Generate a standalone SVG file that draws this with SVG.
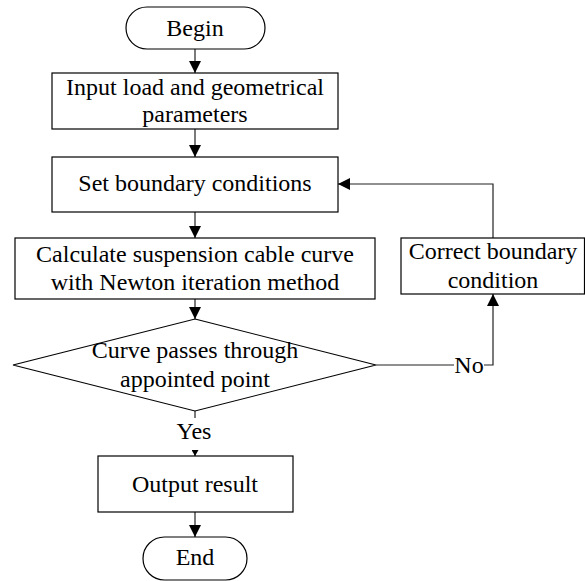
<svg xmlns="http://www.w3.org/2000/svg" width="585" height="581" viewBox="0 0 585 581">
<style>
.box{fill:#fff;stroke:#000;stroke-width:1.2}
.ln{fill:none;stroke:#222;stroke-width:1.2}
text{font-family:"Times New Roman","Liberation Serif",Tinos,"DejaVu Serif","Noto Serif",serif;font-size:24px;fill:#000;text-anchor:middle}
</style>
<defs>
<marker id="ah" markerWidth="12" markerHeight="13" refX="12" refY="6" orient="auto" markerUnits="userSpaceOnUse">
<path d="M0,0 L12,6 L0,12 Z" fill="#000"/>
</marker>
<marker id="ahs" markerWidth="6" markerHeight="7" refX="6" refY="3.5" orient="auto" markerUnits="userSpaceOnUse">
<path d="M0,0 L6,3.5 L0,7 Z" fill="#000"/>
</marker>
</defs>
<rect width="585" height="581" fill="#fff"/>
<g id="connectors">
<line class="ln" x1="195" y1="49" x2="195" y2="73" marker-end="url(#ah)"/>
<line class="ln" x1="195" y1="129" x2="195" y2="157" marker-end="url(#ah)"/>
<line class="ln" x1="195" y1="212" x2="195" y2="238" marker-end="url(#ah)"/>
<line class="ln" x1="195" y1="299" x2="195" y2="319" marker-end="url(#ah)"/>
<line class="ln" x1="195" y1="411" x2="195" y2="418"/>
<line class="ln" x1="195" y1="450" x2="195" y2="456" marker-end="url(#ahs)"/>
<line class="ln" x1="195" y1="512" x2="195" y2="537" marker-end="url(#ah)"/>
<polyline class="ln" points="376,365 454,365"/>
<polyline class="ln" points="484,365 493,365 493,294" marker-end="url(#ah)"/>
<polyline class="ln" points="493,238 493,184 338,184" marker-end="url(#ah)"/>
<text x="194" y="439">Yes</text>
<text x="469" y="373">No</text>
</g>
<g id="begin">
<rect class="box" x="126" y="7" width="139" height="42" rx="21" ry="21"/>
<text x="195" y="36">Begin</text>
</g>
<g id="input">
<rect class="box" x="52" y="73" width="286" height="56"/>
<text x="195" y="95">Input load and geometrical</text>
<text x="195" y="122">parameters</text>
</g>
<g id="setbc">
<rect class="box" x="52" y="157" width="286" height="55"/>
<text x="195" y="191">Set boundary conditions</text>
</g>
<g id="calc">
<rect class="box" x="15" y="238" width="360" height="61"/>
<text x="195" y="262">Calculate suspension cable curve</text>
<text x="195" y="290">with Newton iteration method</text>
</g>
<g id="decision">
<polygon class="box" points="195,319 376,365 195,411 13,365"/>
<text x="195" y="358">Curve passes through</text>
<text x="195" y="387">appointed point</text>
</g>
<g id="correct">
<rect class="box" x="401" y="238" width="183.5" height="56"/>
<text x="493" y="259">Correct boundary</text>
<text x="493" y="288">condition</text>
</g>
<g id="output">
<rect class="box" x="98" y="456" width="195" height="56"/>
<text x="195" y="492">Output result</text>
</g>
<g id="end">
<rect class="box" x="143" y="537" width="104" height="43" rx="21.5" ry="21.5"/>
<text x="195" y="565">End</text>
</g>
</svg>
